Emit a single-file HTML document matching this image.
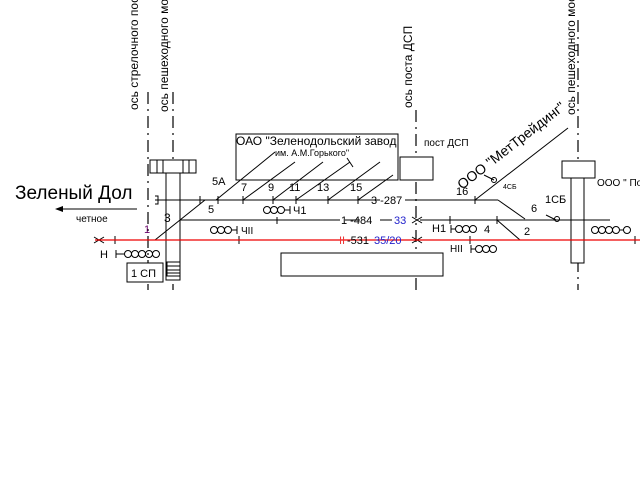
<!DOCTYPE html>
<html><head><meta charset="utf-8"><style>
html,body{margin:0;padding:0;background:#fff;width:640px;height:480px;overflow:hidden}
svg{display:block;font-family:"Liberation Sans",sans-serif}
</style></head><body>
<svg width="640" height="480" viewBox="0 0 640 480" xmlns="http://www.w3.org/2000/svg">
<g stroke="#000" stroke-width="1.2" fill="none" stroke-dasharray="12,5,2,5">
<line x1="148" y1="92" x2="148" y2="290"/>
<line x1="173" y1="92" x2="173" y2="290"/>
<line x1="416" y1="110" x2="416" y2="290"/>
<line x1="578" y1="20" x2="578" y2="290"/>
</g>
<g font-size="12" fill="#000">
<text transform="translate(138,110) rotate(-90)">ось стрелочного поста</text>
<text transform="translate(168,112) rotate(-90)">ось пешеходного мостика</text>
<text transform="translate(412,108) rotate(-90)">ось поста ДСП</text>
<text transform="translate(575,115) rotate(-90)">ось пешеходного мостика</text>
</g>
<g stroke="#000" stroke-width="1" fill="#fff">
<rect x="236" y="134" width="162" height="46"/>
<rect x="400" y="157" width="33" height="23"/>
<rect x="281" y="253" width="162" height="23"/>
<rect x="166" y="173" width="14" height="107"/>
<rect x="150" y="160" width="46" height="13"/>
<rect x="167" y="262" width="13" height="14"/>
<rect x="562" y="161" width="33" height="17"/>
<rect x="571" y="178" width="13" height="85"/>
<rect x="127" y="263" width="36" height="19"/>
</g>
<g stroke="#000" stroke-width="1">
<line x1="157" y1="160" x2="157" y2="173"/><line x1="163" y1="160" x2="163" y2="173"/>
<line x1="183" y1="160" x2="183" y2="173"/><line x1="189" y1="160" x2="189" y2="173"/>
<line x1="167" y1="266" x2="180" y2="266"/><line x1="167" y1="270" x2="180" y2="270"/><line x1="167" y1="273" x2="180" y2="273"/>
</g>
<g stroke="#000" stroke-width="1" fill="none">
<line x1="155" y1="200" x2="380" y2="200"/>
<line x1="405" y1="200" x2="498" y2="200"/>
<line x1="498" y1="200" x2="525" y2="219"/>
<polyline points="155,196 158,196 158,204 155,204"/>
<line x1="180" y1="220" x2="340" y2="220"/>
<line x1="345" y1="220" x2="360" y2="220"/><line x1="380" y1="220" x2="392" y2="220"/>
<line x1="420" y1="220" x2="610" y2="220"/>
<line x1="155" y1="240" x2="205" y2="200"/>
<line x1="497" y1="220" x2="520" y2="240"/>
<line x1="520" y1="240" x2="525" y2="240"/>
<line x1="216" y1="200" x2="275" y2="152"/>
<line x1="243" y1="200" x2="295" y2="162"/>
<line x1="273" y1="200" x2="323" y2="162"/>
<line x1="296" y1="200" x2="350" y2="162"/><line x1="347" y1="158" x2="353" y2="167"/>
<line x1="328" y1="200" x2="380" y2="162"/>
<line x1="358" y1="200" x2="393" y2="175"/>
<line x1="475" y1="200" x2="568" y2="128"/>
<line x1="200" y1="196" x2="200" y2="204"/><line x1="218" y1="196" x2="218" y2="204"/>
<line x1="243" y1="196" x2="243" y2="204"/><line x1="273" y1="196" x2="273" y2="204"/>
<line x1="296" y1="196" x2="296" y2="204"/><line x1="328" y1="196" x2="328" y2="204"/>
<line x1="358" y1="196" x2="358" y2="204"/><line x1="475" y1="196" x2="475" y2="204"/>
<line x1="450" y1="216" x2="450" y2="224"/><line x1="497" y1="216" x2="497" y2="224"/>
<line x1="277" y1="217" x2="277" y2="224"/>
<line x1="239" y1="236" x2="239" y2="244"/><line x1="115" y1="236" x2="115" y2="244"/>
<line x1="470" y1="236" x2="470" y2="244"/><line x1="635" y1="236" x2="635" y2="244"/>
<path d="M484 175 Q490 178 494 180"/><circle cx="494" cy="180" r="2.5"/>
<path d="M546 215 Q552 218 556 220"/><circle cx="557" cy="219" r="2.5"/>
<circle cx="267" cy="210" r="3.5"/><circle cx="274" cy="210" r="3.5"/><circle cx="281" cy="210" r="3.5"/><line x1="285" y1="210" x2="290" y2="210"/><line x1="290" y1="206" x2="290" y2="214"/>
<circle cx="214" cy="230" r="3.5"/><circle cx="221" cy="230" r="3.5"/><circle cx="228" cy="230" r="3.5"/><line x1="232" y1="230" x2="237" y2="230"/><line x1="237" y1="226" x2="237" y2="234"/>
<circle cx="128" cy="254" r="3.5"/><circle cx="135" cy="254" r="3.5"/><circle cx="142" cy="254" r="3.5"/><circle cx="149" cy="254" r="3.5"/><circle cx="156" cy="254" r="3.5"/><line x1="116" y1="250" x2="116" y2="258"/><line x1="116" y1="254" x2="124" y2="254"/>
<line x1="451" y1="225" x2="451" y2="233"/><line x1="451" y1="229" x2="455" y2="229"/><circle cx="459" cy="229" r="3.5"/><circle cx="466" cy="229" r="3.5"/><circle cx="473" cy="229" r="3.5"/>
<line x1="471" y1="245" x2="471" y2="253"/><line x1="471" y1="249" x2="475" y2="249"/><circle cx="479" cy="249" r="3.5"/><circle cx="486" cy="249" r="3.5"/><circle cx="493" cy="249" r="3.5"/>
<circle cx="595" cy="230" r="3.5"/><circle cx="602" cy="230" r="3.5"/><circle cx="609" cy="230" r="3.5"/><circle cx="616" cy="230" r="3.5"/><circle cx="627" cy="230" r="3.5"/><line x1="620" y1="230" x2="624" y2="230"/>
<path d="M94 237 L104 243 M94 243 L104 237 M412 217 L422 223 M412 223 L422 217 M412 237 L422 243 M412 243 L422 237"/>
</g>
<line x1="95" y1="240" x2="640" y2="240" stroke="#e00" stroke-width="1.2"/>
<line x1="60" y1="209" x2="137" y2="209" stroke="#000" stroke-width="1"/>
<polygon points="55,209 63,206 63,212" fill="#000"/>
<g fill="#000" font-size="11">
<text x="15" y="199" font-size="19">Зеленый Дол</text>
<text x="76" y="222" font-size="10">четное</text>
<text x="236" y="145" font-size="12">ОАО "Зеленодольский завод</text>
<text x="275" y="156" font-size="9">им. А.М.Горького"</text>
<text x="424" y="146" font-size="10">пост ДСП</text>
<text transform="translate(462,190) rotate(-38)" font-size="14">ООО "МетТрейдинг"</text>
<text x="597" y="186" font-size="10">ООО " По</text>
<text x="212" y="185">5А</text><text x="241" y="191">7</text><text x="268" y="191">9</text>
<text x="289" y="191">11</text><text x="317" y="191">13</text><text x="350" y="191">15</text>
<text x="371" y="204">3 -287</text>
<text x="208" y="213">5</text><text x="164" y="222" font-size="12">3</text>
<text x="144" y="233" fill="#606">1</text>
<text x="293" y="214">Ч1</text><text x="241" y="234" font-size="10">ЧII</text>
<text x="341" y="224">1 -484</text><text x="394" y="224" fill="#22c">33</text>
<text x="339" y="244" fill="#e33">II</text><text x="347" y="244">-531</text><text x="374" y="244" fill="#22c">35/20</text>
<text x="100" y="258">Н</text><text x="131" y="277">1 СП</text>
<text x="456" y="195">16</text><text x="503" y="189" font-size="7">4СБ</text>
<text x="531" y="212">6</text><text x="545" y="203">1СБ</text>
<text x="432" y="232">Н1</text><text x="484" y="233">4</text><text x="524" y="235">2</text>
<text x="450" y="252" font-size="10">НII</text>
</g>
</svg>
</body></html>
